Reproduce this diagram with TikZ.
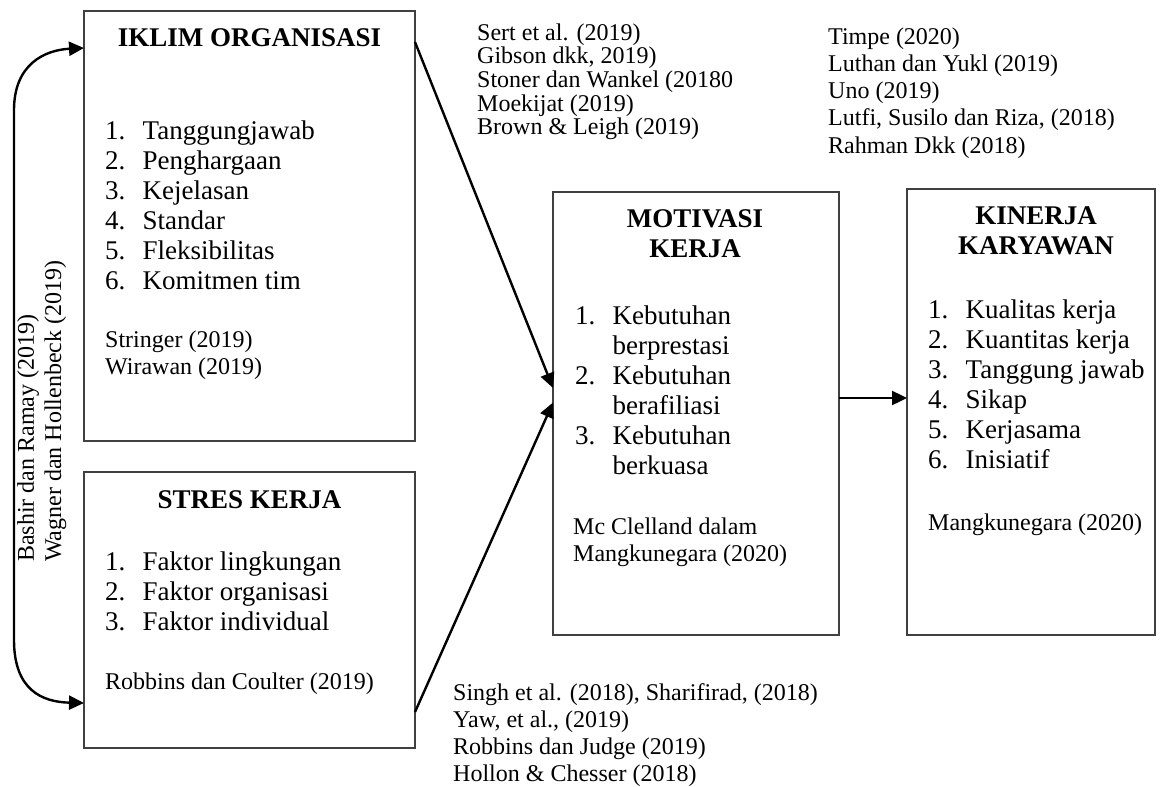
\documentclass[tikz,border=0pt]{standalone}
\usepackage{fontspec}
\setmainfont{Liberation Serif}
\usetikzlibrary{arrows.meta}
\newcommand{\LL}[1]{\begin{tabular}[t]{@{}l@{}}#1\end{tabular}}
\newcommand{\CL}[1]{\begin{tabular}[t]{@{}c@{}}#1\end{tabular}}
\newcommand{\itm}[2]{\makebox[37.5pt][l]{#1}#2}
\begin{document}
\begin{tikzpicture}[x=1pt,y=-1pt,
  box/.style={draw=black!75, line width=1.3pt, inner sep=0pt, outer sep=0pt, anchor=north west},
  conn/.style={line width=2.4pt, -{Triangle[length=15pt,width=14pt]}},
  ttl/.style={inner sep=0pt, anchor=base, font=\fontsize{27}{30}\selectfont\bfseries},
  lst/.style={inner sep=0pt, anchor=base west, font=\fontsize{27}{30}\selectfont},
  refs/.style={inner sep=0pt, anchor=base west, font=\fontsize{24}{27.3}\selectfont},
  refst/.style={inner sep=0pt, anchor=base west, font=\fontsize{24}{23.5}\selectfont},
]
\useasboundingbox (0,0) rectangle (1160,787);

% boxes
\node[box, minimum width=331pt, minimum height=430pt] (iklim) at (84,11) {};
\node[box, minimum width=331pt, minimum height=276pt] (stres) at (84,472) {};
\node[box, minimum width=286pt, minimum height=443pt] (motiv) at (553,192) {};
\node[box, minimum width=248pt, minimum height=446pt] (kinerja) at (907,189) {};

% iklim
\node[ttl] (iklimT) at (249.5,46) {IKLIM ORGANISASI};
\node[lst] (iklimL) at (105,139) {\LL{\itm{1.}{Tanggungjawab}\\ \itm{2.}{Penghargaan}\\ \itm{3.}{Kejelasan}\\ \itm{4.}{Standar}\\ \itm{5.}{Fleksibilitas}\\ \itm{6.}{Komitmen tim}}};
\node[refs] (iklimR) at (105,347) {\LL{Stringer (2019)\\ Wirawan (2019)}};

% stres
\node[ttl] (stresT) at (249.5,508) {STRES KERJA};
\node[lst] (stresL) at (105,570) {\LL{\itm{1.}{Faktor lingkungan}\\ \itm{2.}{Faktor organisasi}\\ \itm{3.}{Faktor individual}}};
\node[refs] (stresR) at (105,689) {Robbins dan Coulter (2019)};

% motivasi
\node[ttl] (motivT) at (695,227) {\CL{MOTIVASI\\ KERJA}};
\node[lst] (motivL) at (575,324) {\LL{\itm{1.}{Kebutuhan}\\ \itm{}{berprestasi}\\ \itm{2.}{Kebutuhan}\\ \itm{}{berafiliasi}\\ \itm{3.}{Kebutuhan}\\ \itm{}{berkuasa}}};
\node[refs] (motivR) at (573,534) {\LL{Mc Clelland dalam\\ Mangkunegara (2020)}};

% kinerja
\node[ttl] (kinT) at (1036,224) {\CL{KINERJA\\ KARYAWAN}};
\node[lst] (kinL) at (928,318) {\LL{\itm{1.}{Kualitas kerja}\\ \itm{2.}{Kuantitas kerja}\\ \itm{3.}{Tanggung jawab}\\ \itm{4.}{Sikap}\\ \itm{5.}{Kerjasama}\\ \itm{6.}{Inisiatif}}};
\node[refs] (kinR) at (928,530) {Mangkunegara (2020)};

% reference columns
\node[refst] (refA) at (477,40) {\LL{Sert et al. (2019)\\ Gibson dkk, 2019)\\ Stoner dan Wankel (20180\\ Moekijat (2019)\\ Brown \& Leigh (2019)}};
\node[refs] (refB) at (828,44) {\LL{Timpe (2020)\\ Luthan dan Yukl (2019)\\ Uno (2019)\\ Lutfi, Susilo dan Riza, (2018)\\ Rahman Dkk (2018)}};
\node[refs] (refC) at (453,700) {\LL{Singh et al. (2018), Sharifirad, (2018)\\ Yaw, et al., (2019)\\ Robbins dan Judge (2019)\\ Hollon \& Chesser (2018)}};

% vertical labels
\node[refs, rotate=90] (bashir) at (34,562) {Bashir dan Ramay (2019)};
\node[refs, rotate=90] (wagner) at (61,562) {Wagner dan Hollenbeck (2019)};

% connectors
\draw[conn] ([yshift=-31pt]iklim.north east) -- ([yshift=25.5pt]motiv.west);
\draw[conn] ([yshift=36pt]stres.south east) -- ([yshift=11pt]motiv.west);
\coordinate (h) at ([yshift=15.5pt]motiv.east);
\draw[conn] (h) -- (h -| kinerja.west);

\coordinate (cTop) at ([yshift=-37pt]iklim.north west);
\coordinate (cBot) at ([yshift=45pt]stres.south west);
\draw[line width=2.4pt, {Triangle[length=15pt,width=14pt]}-{Triangle[length=15pt,width=14pt]}]
  (cTop) .. controls (45,50) and (14,64) .. (14,110) -- (14,640)
  .. controls (14,690) and (42,702) .. (cBot);
\end{tikzpicture}
\end{document}
